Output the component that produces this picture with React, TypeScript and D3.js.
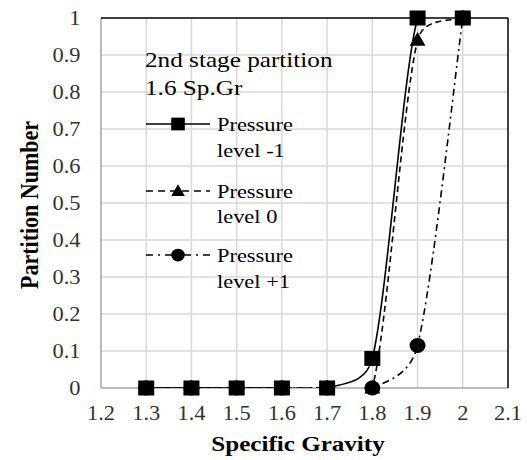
import React from "react";
import * as d3 from "d3";

const xTicks = [1.2, 1.3, 1.4, 1.5, 1.6, 1.7, 1.8, 1.9, 2.0, 2.1];
const xTickLabels = ["1.2", "1.3", "1.4", "1.5", "1.6", "1.7", "1.8", "1.9", "2", "2.1"];
const yTicks = [0, 0.1, 0.2, 0.3, 0.4, 0.5, 0.6, 0.7, 0.8, 0.9, 1];
const yTickLabels = ["0", "0.1", "0.2", "0.3", "0.4", "0.5", "0.6", "0.7", "0.8", "0.9", "1"];

const gravity = [1.3, 1.4, 1.5, 1.6, 1.7, 1.8, 1.9, 2.0];
const levelMinus1 = [0, 0, 0, 0, 0, 0.08, 1, 1];
const level0 = [0, 0, 0, 0, 0, 0, 0.94, 1];
const levelPlus1 = [0, 0, 0, 0, 0, 0, 0.115, 1];

const seriesNames = ["Pressure level -1", "Pressure level 0", "Pressure level +1"];
const legendLines1 = ["Pressure", "Pressure", "Pressure"];
const legendLines2 = ["level -1", "level 0", "level +1"];
const annotation = ["2nd stage partition", "1.6 Sp.Gr"];

const W = 527;
const H = 460;
const L = 101, R = 508, T = 18, B = 388;

const FONT = "Liberation Serif, Times New Roman, serif";

// Excel-like smoothed Bezier path through pixel points
function smoothPath(pts: [number, number][]) {
  const p = d3.path();
  const dist = (a: [number, number], b: [number, number]) => Math.hypot(a[0] - b[0], a[1] - b[1]);
  p.moveTo(pts[0][0], pts[0][1]);
  for (let i = 0; i < pts.length - 1; i++) {
    const P1 = pts[i];
    const P2 = pts[i + 1];
    const P0 = i > 0 ? pts[i - 1] : P1;
    const P3 = i + 2 < pts.length ? pts[i + 2] : P2;
    const d12 = dist(P1, P2);
    const d02 = dist(P0, P2);
    const d13 = dist(P1, P3);
    let f0 = 1 / 6;
    let f3 = 1 / 6;
    if (d02 / 6 > d12 / 2 && d02 > 0) f0 = d12 / (2 * d02);
    if (d13 / 6 > d12 / 2 && d13 > 0) f3 = d12 / (2 * d13);
    const c1x = P1[0] + (P2[0] - P0[0]) * f0;
    const c1y = P1[1] + (P2[1] - P0[1]) * f0;
    const c2x = P2[0] - (P3[0] - P1[0]) * f3;
    const c2y = P2[1] - (P3[1] - P1[1]) * f3;
    p.bezierCurveTo(c1x, c1y, c2x, c2y, P2[0], P2[1]);
  }
  return p.toString();
}

export default function App() {
  const x = d3.scaleLinear().domain([1.2, 2.1]).range([L, R]);
  const y = d3.scaleLinear().domain([0, 1]).range([B, T]);

  const series = [
    { name: seriesNames[2], values: levelPlus1, dash: "7,4,2,4", marker: "circle" },
    { name: seriesNames[1], values: level0, dash: "6,4", marker: "triangle" },
    { name: seriesNames[0], values: levelMinus1, dash: "", marker: "square" },
  ];

  const marker = (type: string, cx: number, cy: number, key: string, s = 1) => {
    if (type === "square")
      return <rect key={key} x={cx - 8 * s} y={cy - 7.5 * s} width={16 * s} height={15 * s} fill="#000" />;
    if (type === "triangle") {
      const p = d3.symbol().type(d3.symbolTriangle).size(110 * s * s)();
      return <path key={key} d={p || ""} transform={`translate(${cx},${cy + 1})`} fill="#000" />;
    }
    return <ellipse key={key} cx={cx} cy={cy} rx={8 * s} ry={7.5 * s} fill="#000" />;
  };

  const legend = [
    { dash: "", marker: "square", ly: 124, ty: 131 },
    { dash: "7,5", marker: "triangle", ly: 191, ty: 197.5 },
    { dash: "7,5,2,5", marker: "circle", ly: 255, ty: 262 },
  ];

  const hText = (
    key: string,
    tx: number,
    ty: number,
    s: string,
    opts: { size?: number; anchor?: string; weight?: string; fill?: string; sx?: number } = {}
  ) => (
    <text
      key={key}
      transform={`translate(${tx},${ty}) scale(${opts.sx ?? 1.12},1)`}
      fontFamily={FONT}
      fontSize={opts.size ?? 20}
      textAnchor={opts.anchor ?? "start"}
      fontWeight={opts.weight ?? "normal"}
      fill={opts.fill ?? "#000"}
    >
      {s}
    </text>
  );

  return (
    <svg width={W} height={H} style={{ position: "absolute", left: 0, top: 0, background: "#fff" }}>
      <defs>
        <clipPath id="plot">
          <rect x={L} y={T} width={R - L} height={B - T} />
        </clipPath>
      </defs>
      <rect x={0} y={0} width={W} height={H} fill="#fff" />
      {xTicks.slice(1, -1).map((t) => (
        <line key={"gx" + t} x1={x(t)} x2={x(t)} y1={T} y2={B} stroke="#d9d9d9" strokeWidth={1.5} />
      ))}
      {yTicks.slice(1, -1).map((t) => (
        <line key={"gy" + t} x1={L} x2={R} y1={y(t)} y2={y(t)} stroke="#d9d9d9" strokeWidth={1.5} />
      ))}
      <line x1={L} x2={L} y1={T} y2={B} stroke="#a6a6a6" strokeWidth={1.5} />
      <line x1={L} x2={R} y1={B} y2={B} stroke="#a6a6a6" strokeWidth={1.5} />
      <line x1={L} x2={R} y1={T} y2={T} stroke="#000" strokeWidth={1.5} />
      <line x1={R} x2={R} y1={T} y2={B} stroke="#000" strokeWidth={1.5} />

      {yTicks.map((t, i) => hText("yl" + i, 80.5, y(t) + 7.3, yTickLabels[i], { anchor: "end", fill: "#333" }))}
      {xTicks.map((t, i) => hText("xl" + i, x(t), 420, xTickLabels[i], { anchor: "middle", fill: "#333" }))}

      {hText("xt", 298, 451, "Specific Gravity", { size: 22, anchor: "middle", weight: "bold", sx: 1.14 })}
      <text
        transform={`translate(38,205) rotate(-90) scale(1,1.1)`}
        fontFamily={FONT}
        fontSize={22}
        fontWeight="bold"
        textAnchor="middle"
        fill="#000"
      >
        Partition Number
      </text>

      <g clipPath="url(#plot)">
        {series.map((s) => (
          <path
            key={"l" + s.name}
            d={smoothPath(gravity.map((g, i) => [x(g), y(s.values[i])] as [number, number]))}
            fill="none"
            stroke="#000"
            strokeWidth={1.6}
            strokeDasharray={s.dash || undefined}
          />
        ))}
      </g>
      {series.map((s) => (
        <g key={"m" + s.name}>
          {gravity.map((g, i) => marker(s.marker, x(g), y(s.values[i]), s.name + i))}
        </g>
      ))}

      {hText("t1", 145, 66.7, annotation[0], { size: 21, sx: 1.2 })}
      {hText("t2", 145, 95, annotation[1], { size: 21, sx: 1.2 })}

      {legend.map((e, i) => (
        <g key={"lg" + i}>
          <line
            x1={146}
            x2={210}
            y1={e.ly}
            y2={e.ly}
            stroke="#000"
            strokeWidth={1.6}
            strokeDasharray={e.dash || undefined}
          />
          {marker(e.marker, 178, e.ly, "lm" + i, 0.85)}
          {hText("la" + i, 217, e.ty, legendLines1[i], { size: 19, sx: 1.18 })}
          {hText("lb" + i, 217, e.ty + 25.5, legendLines2[i], { size: 19, sx: 1.18 })}
        </g>
      ))}
    </svg>
  );
}
